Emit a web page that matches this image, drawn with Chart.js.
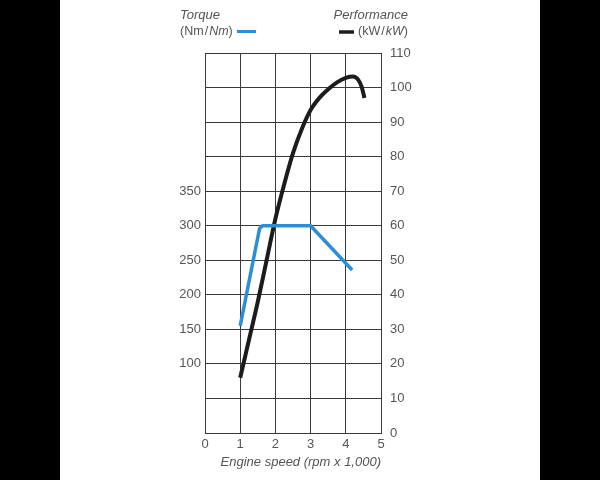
<!DOCTYPE html>
<html>
<head>
<meta charset="utf-8">
<script src="https://cdn.jsdelivr.net/npm/chart.js@4.4.1/dist/chart.umd.min.js"></script>
<style>
  html, body { margin: 0; padding: 0; background: #000; }
  #wrap { position: absolute; left: 60px; top: 0; width: 480px; height: 480px; background: #fff; }
  canvas { display: block; }
</style>
</head>
<body>
<div id="wrap"><canvas id="chart" width="480" height="480"></canvas></div>
<script>
// engine speed in rpm x 1,000
var torqueSpeed = [1.0, 1.55, 1.63, 3.0, 4.18];
var torqueValues = [155, 296, 300, 300, 236];

var powerSpeed = [1.0, 1.25, 1.5, 1.75, 2.0, 2.25, 2.5, 2.75, 3.0, 3.25, 3.5, 3.75, 4.0, 4.2, 4.35, 4.45, 4.53];
var powerValues = [16, 27, 38, 50, 62, 72, 81, 88, 93.5, 97, 99.5, 101.5, 102.8, 103.2, 102.3, 100.2, 97];

var speedTicks = [0, 1, 2, 3, 4, 5];
var torqueTicks = [100, 150, 200, 250, 300, 350];

var blue = '#2a8fd8';
var ink = '#1c1c1c';
var textGrey = '#555';
var fontName = '"Liberation Sans", Arial, sans-serif';

var toPoints = function(xs, ys) {
    var pts = [];
    for (var i = 0; i < xs.length; i++) {
        pts.push({ x: xs[i], y: ys[i] });
    }
    return pts;
};

// header labels above the two y axes
var headerPlugin = {
    id: 'header',
    afterDraw: function(chart) {
        var ctx = chart.ctx;
        var plain = '12.5px ' + fontName;
        var ital = 'italic 12.5px ' + fontName;
        ctx.save();
        ctx.fillStyle = textGrey;
        ctx.textBaseline = 'alphabetic';

        ctx.font = 'italic 13px ' + fontName;
        ctx.textAlign = 'left';
        ctx.fillText('Torque', 120, 19);

        var x = 120;
        ctx.font = plain;
        ctx.fillText('(Nm\u200a/\u200a', x, 35);
        x += ctx.measureText('(Nm\u200a/\u200a').width;
        ctx.font = ital;
        ctx.fillText('Nm', x, 35);
        x += ctx.measureText('Nm').width;
        ctx.font = plain;
        ctx.fillText(')', x, 35);

        ctx.lineWidth = 3;
        ctx.strokeStyle = blue;
        ctx.beginPath();
        ctx.moveTo(177, 31.5);
        ctx.lineTo(196, 31.5);
        ctx.stroke();

        ctx.font = 'italic 13px ' + fontName;
        ctx.textAlign = 'right';
        ctx.fillText('Performance', 348, 19);

        var r = 348;
        ctx.font = plain;
        ctx.fillText(')', r, 35);
        r -= ctx.measureText(')').width;
        ctx.font = ital;
        ctx.fillText('kW', r, 35);
        r -= ctx.measureText('kW').width;
        ctx.font = plain;
        ctx.fillText('(kW\u200a/\u200a', r, 35);

        ctx.lineWidth = 3.5;
        ctx.strokeStyle = ink;
        ctx.beginPath();
        ctx.moveTo(279, 32);
        ctx.lineTo(294, 32);
        ctx.stroke();
        ctx.restore();
    }
};

var tickFont = { family: fontName, size: 13 };

var config = {
    type: 'line',
    data: {
        datasets: [{
            label: 'Torque (Nm/Nm)',
            data: toPoints(torqueSpeed, torqueValues),
            yAxisID: 'yTorque',
            borderColor: blue,
            borderWidth: 3.5,
            pointRadius: 0,
            tension: 0,
            borderJoinStyle: 'round'
        }, {
            label: 'Performance (kW/kW)',
            data: toPoints(powerSpeed, powerValues),
            yAxisID: 'yPower',
            borderColor: ink,
            borderWidth: 4,
            pointRadius: 0,
            cubicInterpolationMode: 'monotone',
            borderCapStyle: 'butt'
        }]
    },
    options: {
        responsive: false,
        devicePixelRatio: 1,
        animation: false,
        layout: { padding: { top: 53, left: 0, right: 0, bottom: 0 } },
        plugins: {
            legend: { display: false },
            tooltip: { enabled: false }
        },
        scales: {
            x: {
                type: 'linear',
                min: 0,
                max: 5,
                afterFit: function(scale) { scale.height = 47; },
                afterBuildTicks: function(scale) {
                    scale.ticks = speedTicks.map(function(v) { return { value: v }; });
                },
                grid: { color: '#3a3a3a', lineWidth: 1, drawTicks: false },
                border: { color: '#3a3a3a' },
                ticks: { color: textGrey, font: tickFont, padding: 4 },
                title: {
                    display: true,
                    text: 'Engine speed (rpm x 1,000)',
                    align: 'end',
                    color: textGrey,
                    font: { family: fontName, size: 13, style: 'italic' },
                    padding: { top: 4, bottom: 10 }
                }
            },
            yTorque: {
                position: 'left',
                min: 0,
                max: 550,
                afterFit: function(scale) { scale.width = 145; },
                afterBuildTicks: function(scale) {
                    scale.ticks = torqueTicks.map(function(v) { return { value: v }; });
                },
                grid: { display: false, drawTicks: false },
                border: { color: '#3a3a3a' },
                ticks: { color: textGrey, font: tickFont, padding: 4 }
            },
            yPower: {
                position: 'right',
                min: 0,
                max: 110,
                afterFit: function(scale) { scale.width = 159; },
                grid: { color: '#3a3a3a', lineWidth: 1, drawTicks: false },
                border: { color: '#3a3a3a' },
                ticks: { color: textGrey, font: tickFont, stepSize: 10, padding: 9 }
            }
        }
    },
    plugins: [headerPlugin]
};

window.onload = function() {
    var ctx = document.getElementById('chart').getContext('2d');
    new Chart(ctx, config);
};
</script>
</body>
</html>
